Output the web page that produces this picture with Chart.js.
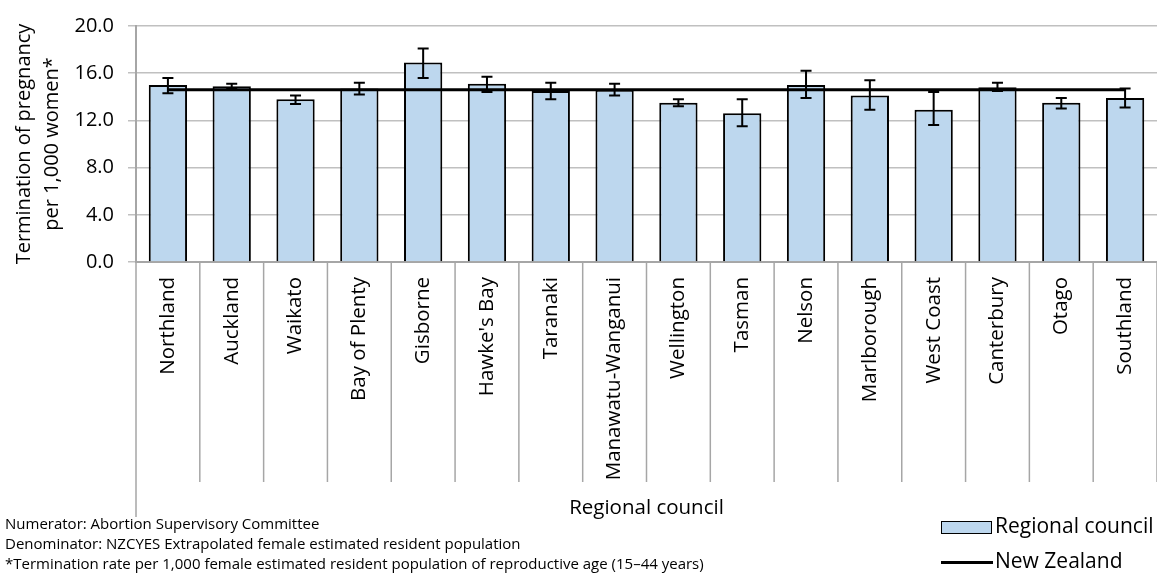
<!DOCTYPE html>
<html>
<head>
<meta charset="utf-8">
<script src="https://cdn.jsdelivr.net/npm/chart.js@4.4.1/dist/chart.umd.min.js"></script>
<style>
  html, body { margin: 0; padding: 0; background: #fff; overflow: hidden; }
  #wrap { position: relative; width: 1157px; height: 574px; font-family: 'Open Sans', sans-serif; color: #000; }
  canvas { position: absolute; left: 0; top: 0; }
  .txt { position: absolute; white-space: nowrap; }
  #xtitle { left: 0; width: 1293px; top: 492px; font-size: 20.5px; text-align: center; }
  #notes { left: 5px; top: 513px; font-size: 15px; line-height: 20px; }
  .lg-box { position: absolute; left: 941px; top: 521px; width: 49px; height: 11px; background: #BDD7EE; border: 1.5px solid #000; }
  .lg-line { position: absolute; left: 941px; top: 561px; width: 52px; height: 3px; background: #000; }
  #lg1 { left: 995px; top: 511px; font-size: 21px; }
  #lg2 { left: 995px; top: 546px; font-size: 21px; }
</style>
</head>
<body>
<div id="wrap">
  <canvas id="grafico" width="1157" height="574"></canvas>
  <div class="txt" id="xtitle">Regional council</div>
  <div class="txt" id="notes">Numerator: Abortion Supervisory Committee<br>Denominator: NZCYES Extrapolated female estimated resident population<br>*Termination rate per 1,000 female estimated resident population of reproductive age (15–44 years)</div>
  <div class="lg-box"></div>
  <div class="txt" id="lg1">Regional council</div>
  <div class="lg-line"></div>
  <div class="txt" id="lg2">New Zealand</div>
</div>
<script>
// Dados do gráfico
const regioes = ["Northland", "Auckland", "Waikato", "Bay of Plenty", "Gisborne", "Hawke's Bay", "Taranaki",
    "Manawatu-Wanganui", "Wellington", "Tasman", "Nelson", "Marlborough", "West Coast", "Canterbury", "Otago", "Southland"];
const taxas = [15.0, 14.9, 13.8, 14.7, 16.9, 15.1, 14.5, 14.6, 13.5, 12.6, 15.0, 14.1, 12.9, 14.8, 13.5, 13.9];
const limiteInferior = [14.3, 14.7, 13.4, 14.2, 15.6, 14.4, 13.8, 14.1, 13.2, 11.5, 13.9, 12.9, 11.6, 14.5, 13.0, 13.1];
const limiteSuperior = [15.6, 15.1, 14.1, 15.2, 18.1, 15.7, 15.2, 15.1, 13.8, 13.8, 16.2, 15.4, 14.4, 15.2, 13.9, 14.7];
const taxaNZ = [14.6, 14.6, 14.6, 14.6, 14.6, 14.6, 14.6, 14.6, 14.6, 14.6, 14.6, 14.6, 14.6, 14.6, 14.6, 14.6];
const rotulosY = [0, 4, 8, 12, 16, 20];

Chart.defaults.font.family = "'Open Sans', sans-serif";
Chart.defaults.color = "#000";

// Barras de erro (intervalo de confiança)
const barrasErro = {
    id: "barrasErro",
    afterDatasetsDraw(chart) {
        const ctx = chart.ctx;
        const meta = chart.getDatasetMeta(1);
        const y = chart.scales.y;
        ctx.save();
        ctx.strokeStyle = "#000";
        ctx.lineWidth = 2;
        meta.data.forEach((bar, i) => {
            const yt = y.getPixelForValue(limiteSuperior[i]);
            const yb = y.getPixelForValue(limiteInferior[i]);
            ctx.beginPath();
            ctx.moveTo(bar.x, yt); ctx.lineTo(bar.x, yb);
            ctx.moveTo(bar.x - 5.5, yt); ctx.lineTo(bar.x + 5.5, yt);
            ctx.moveTo(bar.x - 5.5, yb); ctx.lineTo(bar.x + 5.5, yb);
            ctx.stroke();
        });
        ctx.restore();
    }
};

// Linhas de separação das categorias abaixo do eixo
const separadores = {
    id: "separadores",
    afterDraw(chart) {
        const ctx = chart.ctx;
        const x = chart.scales.x;
        const area = chart.chartArea;
        ctx.save();
        ctx.strokeStyle = "#A6A6A6";
        ctx.lineWidth = 1.5;
        for (let i = 1; i <= regioes.length; i++) {
            const px = x.getPixelForValue(i - 0.5);
            ctx.beginPath();
            ctx.moveTo(px, area.bottom);
            ctx.lineTo(px, 482);
            ctx.stroke();
        }
        ctx.beginPath();
        ctx.moveTo(area.left, area.bottom);
        ctx.lineTo(area.left, 517);
        ctx.stroke();
        ctx.restore();
    }
};

const ctx = document.getElementById("grafico").getContext("2d");
window.grafico = new Chart(ctx, {
    data: {
        labels: regioes,
        datasets: [{
            type: "line",
            label: "New Zealand",
            data: taxaNZ,
            borderColor: "#000",
            borderWidth: 3,
            pointRadius: 0,
            fill: false,
            order: 0
        }, {
            type: "bar",
            label: "Regional council",
            data: taxas,
            backgroundColor: "#BDD7EE",
            borderColor: "#000",
            borderWidth: 2,
            barPercentage: 0.6,
            categoryPercentage: 1,
            order: 1
        }]
    },
    options: {
        responsive: false,
        animation: false,
        layout: { padding: { top: 24, right: 0, bottom: 0, left: 0 } },
        plugins: {
            legend: { display: false },
            tooltip: { enabled: false }
        },
        scales: {
            x: {
                offset: true,
                grid: { display: false },
                border: { color: "#A6A6A6", width: 2 },
                ticks: {
                    autoSkip: false,
                    maxRotation: 90,
                    minRotation: 90,
                    padding: 7,
                    font: { size: 20.5 }
                },
                afterFit(scale) { scale.height = 312; }
            },
            y: {
                min: 0,
                max: 20,
                grid: { color: "#C0C0C0", lineWidth: 1.5, tickLength: 8 },
                border: { color: "#A6A6A6", width: 2 },
                ticks: {
                    stepSize: 2,
                    padding: 14,
                    font: { size: 20 },
                    callback: (v) => rotulosY.includes(v) ? v.toFixed(1) : ""
                },
                title: {
                    display: true,
                    text: ["Termination of pregnancy", "per 1,000 women*"],
                    font: { size: 20, lineHeight: 1.4 },
                    padding: { top: 10, bottom: 0 }
                },
                afterFit(scale) { scale.width = 136; }
            }
        }
    },
    plugins: [barrasErro, separadores]
});
</script>
</body>
</html>
